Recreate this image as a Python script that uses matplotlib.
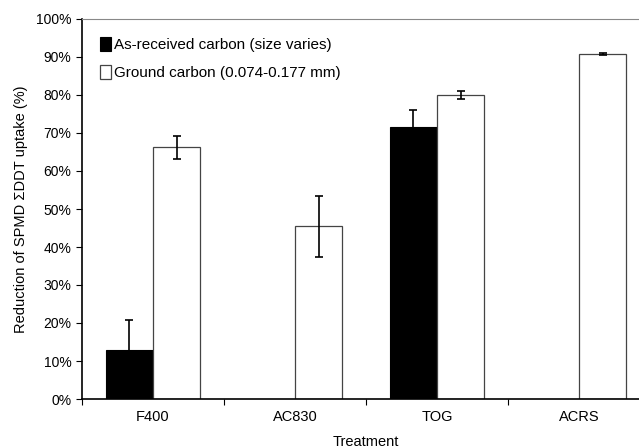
import numpy as np
import matplotlib
matplotlib.use("Agg")
from matplotlib import pyplot as plt
from matplotlib.ticker import FuncFormatter

plt.rcParams['font.family'] = ['Liberation Sans', 'DejaVu Sans']

treatments = ["F400", "AC830", "TOG", "ACRS"]
as_received = [13.0, np.nan, 71.5, np.nan]
as_received_err = [7.8, np.nan, 4.5, np.nan]
ground = [66.2, 45.5, 80.0, 90.8]
ground_err = [3.0, 8.0, 1.0, 0.15]

fig = plt.figure(figsize=(6.39, 4.48), dpi=100)
ax = fig.add_axes([82 / 639, 49 / 448, 568 / 639, 380 / 448])

x = np.arange(len(treatments))
w = 1 / 3
ax.bar(x - w / 2, as_received, w, color="black", edgecolor="black", linewidth=0.8,
       yerr=as_received_err, error_kw=dict(ecolor="black", elinewidth=1.2, capsize=3, capthick=1.2),
       label="As-received carbon (size varies)")
ax.bar(x + w / 2, ground, w, color="white", edgecolor="#444444", linewidth=0.9,
       yerr=ground_err, error_kw=dict(ecolor="black", elinewidth=1.2, capsize=3, capthick=1.2),
       label="Ground carbon (0.074-0.177 mm)")

ax.set_xlim(-0.5, 3.5)
ax.set_ylim(0, 100)
ax.set_yticks(np.arange(0, 101, 10))
ax.yaxis.set_major_formatter(FuncFormatter(lambda v, p: f"{int(v)}%"))
ax.set_xticks(np.arange(-0.5, 3.6, 1))
ax.set_xticklabels([])
ax.set_xticks(x, minor=True)
ax.set_xticklabels(treatments, minor=True)
ax.tick_params(axis="x", which="minor", length=0, pad=8, labelsize=10.5)
ax.tick_params(axis="x", which="major", length=4, direction="out")
ax.tick_params(axis="y", length=4, direction="out", labelsize=10)

ax.spines["top"].set_color("#888888")
ax.spines["right"].set_color("#888888")
ax.spines["left"].set_linewidth(1.2)
ax.spines["bottom"].set_linewidth(1.2)

ax.set_ylabel("Reduction of SPMD \u03a3DDT uptake (%)", fontsize=10.5, labelpad=6)
ax.set_xlabel("Treatment", fontsize=10.5, labelpad=8)

ax.legend(loc="upper left", frameon=False, fontsize=11, handlelength=0.75, handleheight=1.0,
          handletextpad=0.2, borderaxespad=0.4, labelspacing=0.85, bbox_to_anchor=(0.01, 0.985))

fig.savefig("out.png", dpi=100)
